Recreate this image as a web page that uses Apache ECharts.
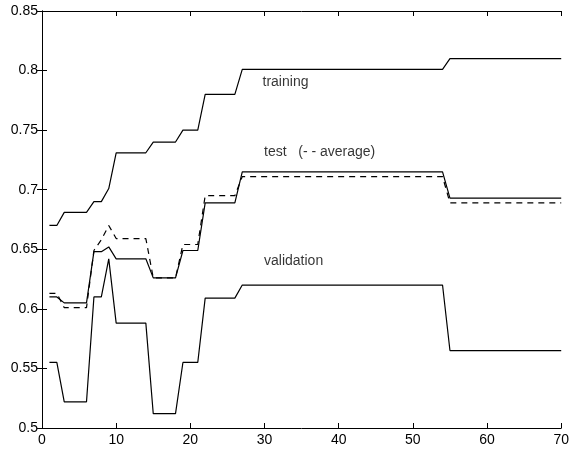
<!DOCTYPE html>
<html>
<head>
<meta charset="utf-8">
<script src="https://cdn.jsdelivr.net/npm/echarts@6/dist/echarts.min.js"></script>
<style>
  html, body { margin: 0; padding: 0; background: #fff; }
  #chart { width: 572px; height: 450px; }
</style>
</head>
<body>
<div id="chart"></div>
<script>
// epochs 1..70
var epochs = []
for (var e = 1; e <= 70; e++) epochs.push(e)

var training = [
  0.670, 0.670, 0.681, 0.681, 0.681, 0.681, 0.690, 0.690, 0.701, 0.731,
  0.731, 0.731, 0.731, 0.731, 0.740, 0.740, 0.740, 0.740, 0.750, 0.750,
  0.750, 0.780, 0.780, 0.780, 0.780, 0.780, 0.801, 0.801, 0.801, 0.801,
  0.801, 0.801, 0.801, 0.801, 0.801, 0.801, 0.801, 0.801, 0.801, 0.801,
  0.801, 0.801, 0.801, 0.801, 0.801, 0.801, 0.801, 0.801, 0.801, 0.801,
  0.801, 0.801, 0.801, 0.801, 0.810, 0.810, 0.810, 0.810, 0.810, 0.810,
  0.810, 0.810, 0.810, 0.810, 0.810, 0.810, 0.810, 0.810, 0.810, 0.810
]

var test = [
  0.610, 0.610, 0.605, 0.605, 0.605, 0.605, 0.648, 0.648, 0.652, 0.642,
  0.642, 0.642, 0.642, 0.642, 0.626, 0.626, 0.626, 0.626, 0.649, 0.649,
  0.649, 0.689, 0.689, 0.689, 0.689, 0.689, 0.715, 0.715, 0.715, 0.715,
  0.715, 0.715, 0.715, 0.715, 0.715, 0.715, 0.715, 0.715, 0.715, 0.715,
  0.715, 0.715, 0.715, 0.715, 0.715, 0.715, 0.715, 0.715, 0.715, 0.715,
  0.715, 0.715, 0.715, 0.715, 0.693, 0.693, 0.693, 0.693, 0.693, 0.693,
  0.693, 0.693, 0.693, 0.693, 0.693, 0.693, 0.693, 0.693, 0.693, 0.693
]

var average = [
  0.613, 0.613, 0.601, 0.601, 0.601, 0.601, 0.649, 0.658, 0.670, 0.659,
  0.659, 0.659, 0.659, 0.659, 0.626, 0.626, 0.626, 0.626, 0.654, 0.654,
  0.654, 0.695, 0.695, 0.695, 0.695, 0.695, 0.711, 0.711, 0.711, 0.711,
  0.711, 0.711, 0.711, 0.711, 0.711, 0.711, 0.711, 0.711, 0.711, 0.711,
  0.711, 0.711, 0.711, 0.711, 0.711, 0.711, 0.711, 0.711, 0.711, 0.711,
  0.711, 0.711, 0.711, 0.711, 0.689, 0.689, 0.689, 0.689, 0.689, 0.689,
  0.689, 0.689, 0.689, 0.689, 0.689, 0.689, 0.689, 0.689, 0.689, 0.689
]

var validation = [
  0.555, 0.555, 0.522, 0.522, 0.522, 0.522, 0.610, 0.610, 0.642, 0.588,
  0.588, 0.588, 0.588, 0.588, 0.512, 0.512, 0.512, 0.512, 0.555, 0.555,
  0.555, 0.609, 0.609, 0.609, 0.609, 0.609, 0.620, 0.620, 0.620, 0.620,
  0.620, 0.620, 0.620, 0.620, 0.620, 0.620, 0.620, 0.620, 0.620, 0.620,
  0.620, 0.620, 0.620, 0.620, 0.620, 0.620, 0.620, 0.620, 0.620, 0.620,
  0.620, 0.620, 0.620, 0.620, 0.565, 0.565, 0.565, 0.565, 0.565, 0.565,
  0.565, 0.565, 0.565, 0.565, 0.565, 0.565, 0.565, 0.565, 0.565, 0.565
]

// text annotations placed in data coordinates
var noteText = ['training', 'test   (- - average)', 'validation']
var noteX = [29.8, 30.0, 30.0]
var noteY = [0.790, 0.731, 0.640]

function pairs(ys) {
  return epochs.map(function (x, i) { return [x, ys[i]] })
}

var font = 'Liberation Sans, Arial, sans-serif'
var lineBase = { type: 'line', showSymbol: false, symbol: 'none', animation: false,
  xAxisIndex: 0, yAxisIndex: 0 }

var chart = echarts.init(document.getElementById('chart'))
chart.setOption({
  backgroundColor: '#fff',
  grid: { left: 42, right: 9, top: 11, bottom: 22, containLabel: false },
  xAxis: [{
    type: 'value', min: 0, max: 70, interval: 10, position: 'bottom',
    axisLine: { lineStyle: { color: '#000', width: 1 } },
    axisTick: { inside: true, length: 5, lineStyle: { color: '#000' } },
    axisLabel: { color: '#000', fontSize: 14, fontFamily: font, margin: 5 },
    splitLine: { show: false }
  }, {
    type: 'value', min: 0, max: 70, interval: 10, position: 'top',
    axisLine: { lineStyle: { color: '#000', width: 1 } },
    axisTick: { inside: true, length: 5, lineStyle: { color: '#000' } },
    axisLabel: { show: false },
    splitLine: { show: false }
  }],
  yAxis: [{
    type: 'value', min: 0.5, max: 0.85, interval: 0.05, position: 'left',
    axisLine: { show: true, lineStyle: { color: '#000', width: 1 } },
    axisTick: { show: true, inside: true, length: 5, lineStyle: { color: '#000' } },
    axisLabel: { color: '#000', fontSize: 14, fontFamily: font, margin: 4 },
    splitLine: { show: false }
  }, {
    type: 'value', min: 0.5, max: 0.85, interval: 0.05, position: 'right',
    axisLine: { show: true, lineStyle: { color: '#000', width: 1 } },
    axisTick: { show: true, inside: true, length: 5, lineStyle: { color: '#000' } },
    axisLabel: { show: false },
    splitLine: { show: false }
  }],
  series: [
    Object.assign({}, lineBase, { name: 'training', data: pairs(training),
      lineStyle: { color: '#000', width: 1.2 } }),
    Object.assign({}, lineBase, { name: 'test', data: pairs(test),
      lineStyle: { color: '#000', width: 1.2 } }),
    Object.assign({}, lineBase, { name: 'average', data: pairs(average),
      lineStyle: { color: '#000', width: 1.2, type: [6, 5] } }),
    Object.assign({}, lineBase, { name: 'validation', data: pairs(validation),
      lineStyle: { color: '#000', width: 1.2 } }),
    {
      type: 'scatter', animation: false, symbolSize: 1, silent: true,
      itemStyle: { color: 'rgba(0,0,0,0)' },
      data: noteText.map(function (t, i) { return { value: [noteX[i], noteY[i]], name: t } }),
      label: {
        show: true, position: [0, 0], align: 'left', verticalAlign: 'middle',
        formatter: function (p) { return p.name },
        color: '#000', fontSize: 14, fontFamily: font
      }
    }
  ]
})
</script>
</body>
</html>
